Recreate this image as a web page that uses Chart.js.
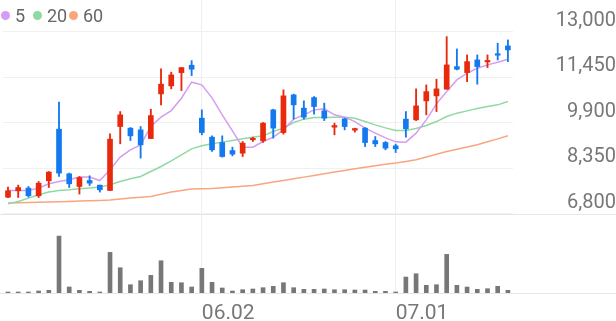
<!DOCTYPE html>
<html>
<head>
<meta charset="utf-8">
<script src="https://cdn.jsdelivr.net/npm/chart.js@4.4.1/dist/chart.umd.min.js"></script>
<style>
  body { margin: 0; background: #fff; }
  #wrap { position: relative; width: 616px; height: 321px; }
  .legend { position: absolute; top: 5px; left: 0; font: 18px Roboto, sans-serif; color: #666; }
  .legend .item { position: absolute; display: flex; align-items: center; white-space: nowrap; }
  .legend .dot { width: 9px; height: 9px; border-radius: 50%; margin-right: 5px; }
</style>
</head>
<body>
<div id="wrap">
  <canvas id="chart"></canvas>
  <div class="legend">
    <div class="item" style="left:1px"><span class="dot" style="background:#d69cf1"></span>5</div>
    <div class="item" style="left:33px"><span class="dot" style="background:#90d9a2"></span>20</div>
    <div class="item" style="left:69px"><span class="dot" style="background:#f9a57f"></span>60</div>
  </div>
</div>
<script>
const dates = ['05.02', '05.07', '05.08', '05.09', '05.12', '05.13', '05.14', '05.15', '05.16', '05.19',
    '05.20', '05.21', '05.22', '05.23', '05.26', '05.27', '05.28', '05.29', '05.30', '06.02',
    '06.04', '06.05', '06.09', '06.10', '06.11', '06.12', '06.13', '06.16', '06.17', '06.18',
    '06.19', '06.20', '06.23', '06.24', '06.25', '06.26', '06.27', '06.30', '07.01', '07.02',
    '07.03', '07.04', '07.07', '07.08', '07.09', '07.10', '07.11', '07.14', '07.15', '07.16']
const shownDates = ['06.02', '07.01']
const priceTicks = [6800, 8350, 9900, 11450, 13000]

const opens = [7360, 7580, 7670, 7408, 7920, 9682, 8158, 7725, 7930, 7772,
    7588, 9771, 9716, 9658, 9362, 10886, 11159, 11612, 11864, 10057,
    9409, 9226, 8952, 8863, 9318, 9283, 10340, 9566, 10852, 10398,
    10760, 10306, 9750, 10034, 9648, 9716, 9293, 9226, 9113, 10023,
    9999, 10647, 10818, 11046, 11817, 11612, 12045, 11977, 12250, 12523]
const highs = [7704, 7772, 7725, 7895, 8236, 10603, 8182, 8066, 8090, 7772,
    9522, 10283, 9737, 9771, 10364, 11738, 11626, 11783, 12021, 10340,
    9454, 9454, 9068, 9261, 9409, 9907, 10364, 11022, 10876, 10647,
    10794, 10569, 9887, 10057, 9716, 9737, 9430, 9260, 9170, 10283,
    11056, 11193, 11387, 12840, 12420, 12216, 12216, 12216, 12615, 12727]
const lows = [7340, 7350, 7363, 7350, 7690, 8066, 7691, 7466, 7760, 7534,
    7588, 9181, 9293, 8693, 9362, 10511, 11056, 10998, 11510, 9488,
    8918, 8727, 8771, 8748, 9260, 9225, 9375, 9512, 10023, 10023,
    10194, 9975, 9488, 9658, 9580, 9089, 9089, 8976, 8884, 9409,
    9975, 10170, 10283, 11046, 11704, 11305, 11217, 11783, 12045, 11987]
const closes = [7580, 7690, 7408, 7840, 8216, 8182, 7817, 8032, 7840, 7612,
    9341, 10170, 9454, 9147, 10146, 11217, 11534, 11783, 11728, 9566,
    8976, 8748, 8829, 9204, 9363, 9887, 9716, 10818, 10511, 10091,
    10453, 10057, 9805, 9771, 9703, 9225, 9181, 9034, 9010, 9692,
    10477, 10964, 11056, 11875, 11728, 11987, 11817, 12021, 12205, 12386]

const ma5 = [7588, 7588, 7588, 7670, 7817, 7895, 7953, 8045, 8045, 7929,
    8294, 8727, 8976, 9147, 9771, 10091, 10316, 10739, 11285, 11193,
    10749, 10170, 9624, 9068, 9068, 9259, 9409, 9658, 10023, 10170,
    10340, 10374, 10170, 10091, 9941, 9716, 9546, 9385, 9249, 9239,
    9546, 9999, 10545, 10964, 11363, 11592, 11762, 11875, 11967, 12069]
const ma20 = [7135, 7213, 7329, 7442, 7534, 7588, 7612, 7646, 7670, 7704,
    7783, 7895, 7987, 8066, 8236, 8407, 8601, 8806, 9010, 9113,
    9181, 9239, 9293, 9351, 9409, 9454, 9600, 9716, 9907, 10023,
    10078, 10078, 10091, 10091, 10057, 9941, 9829, 9726, 9634, 9634,
    9703, 9805, 9941, 10112, 10228, 10306, 10385, 10453, 10511, 10623]
const ma60 = [7159, 7169, 7179, 7186, 7196, 7203, 7213, 7227, 7237, 7247,
    7261, 7295, 7329, 7356, 7384, 7459, 7534, 7585, 7636, 7646,
    7653, 7680, 7708, 7732, 7759, 7817, 7875, 7929, 7987, 8045,
    8100, 8158, 8216, 8270, 8328, 8379, 8431, 8482, 8523, 8577,
    8635, 8731, 8823, 8918, 8993, 9072, 9147, 9249, 9351, 9454]

const volumes = [10000, 10000, 10000, 20000, 27000, 570000, 60000, 27000, 17000, 10000,
    407000, 253000, 83000, 123000, 177000, 323000, 107000, 103000, 60000, 247000,
    107000, 50000, 20000, 33000, 40000, 53000, 67000, 103000, 53000, 37000,
    37000, 40000, 33000, 33000, 30000, 30000, 17000, 17000, 10000, 160000,
    193000, 77000, 83000, 387000, 77000, 60000, 37000, 43000, 67000, 27000]

const upColor = '#e8290b'
const downColor = '#1479ef'
const candleColors = closes.map((c, i) => c >= opens[i] ? upColor : downColor)

// the bottom price line and the volume base run the full width
const fullLines = {
    id: 'fullLines',
    beforeDatasetsDraw(chart) {
        const { ctx, scales, width } = chart
        const ys = [scales.y.getPixelForValue(priceTicks[0]), scales.yVol.getPixelForValue(0)]
        ctx.save()
        ctx.strokeStyle = '#e6e6e6'
        ctx.lineWidth = 1
        ys.forEach(y => {
            ctx.beginPath()
            ctx.moveTo(0, Math.round(y) + 0.5)
            ctx.lineTo(width, Math.round(y) + 0.5)
            ctx.stroke()
        })
        ctx.restore()
    }
}

const ctx = document.getElementById('chart').getContext('2d')
new Chart(ctx, {
    type: 'bar',
    data: {
        labels: dates,
        datasets: [
            {
                data: closes.map((c, i) => [opens[i], c]),
                backgroundColor: candleColors,
                barThickness: 5,
                minBarLength: 1.5,
                grouped: false,
                yAxisID: 'y',
                order: 0
            },
            {
                data: lows.map((l, i) => [l, highs[i]]),
                backgroundColor: candleColors,
                barThickness: 1.2,
                grouped: false,
                yAxisID: 'y',
                order: 1
            },
            { type: 'line', data: ma5, borderColor: '#d69cf1', borderWidth: 1.5, pointRadius: 0, yAxisID: 'y', order: 2 },
            { type: 'line', data: ma20, borderColor: '#90d9a2', borderWidth: 1.5, pointRadius: 0, yAxisID: 'y', order: 3 },
            { type: 'line', data: ma60, borderColor: '#f9a57f', borderWidth: 1.5, pointRadius: 0, yAxisID: 'y', order: 4 },
            {
                data: volumes,
                backgroundColor: '#777777',
                barThickness: 4,
                grouped: false,
                yAxisID: 'yVol',
                order: 5
            }
        ]
    },
    options: {
        responsive: true,
        maintainAspectRatio: false,
        animation: false,
        layout: { padding: 0 },
        plugins: {
            legend: { display: false },
            tooltip: { enabled: false }
        },
        scales: {
            x: {
                offset: true,
                grid: {
                    offset: false,
                    drawTicks: false,
                    color: c => shownDates.includes(dates[c.index]) ? '#eeeeee' : 'rgba(0,0,0,0)'
                },
                border: { display: false },
                ticks: {
                    autoSkip: false,
                    maxRotation: 0,
                    align: 'start',
                    padding: 8,
                    color: '#777',
                    font: { family: 'Roboto', size: 21 },
                    callback: (v, i) => shownDates.includes(dates[i]) ? dates[i] : ''
                },
                afterFit: s => { s.height = 28 }
            },
            y: {
                position: 'right',
                min: 4090,
                max: 14090,
                afterBuildTicks: s => { s.ticks = priceTicks.map(v => ({ value: v })) },
                grid: { drawTicks: false, color: '#f0f0f0' },
                border: { display: false },
                ticks: {
                    crossAlign: 'far',
                    padding: 35,
                    labelOffset: -11,
                    color: '#777',
                    font: { family: 'Roboto', size: 20 },
                    callback: v => v.toLocaleString('en-US')
                },
                afterFit: s => {
                    s.width = 103
                    s.paddingTop = 0
                    s.paddingBottom = 0
                }
            },
            yVol: {
                display: false,
                min: 0,
                max: 2935000
            }
        }
    },
    plugins: [fullLines]
})
</script>
</body>
</html>
